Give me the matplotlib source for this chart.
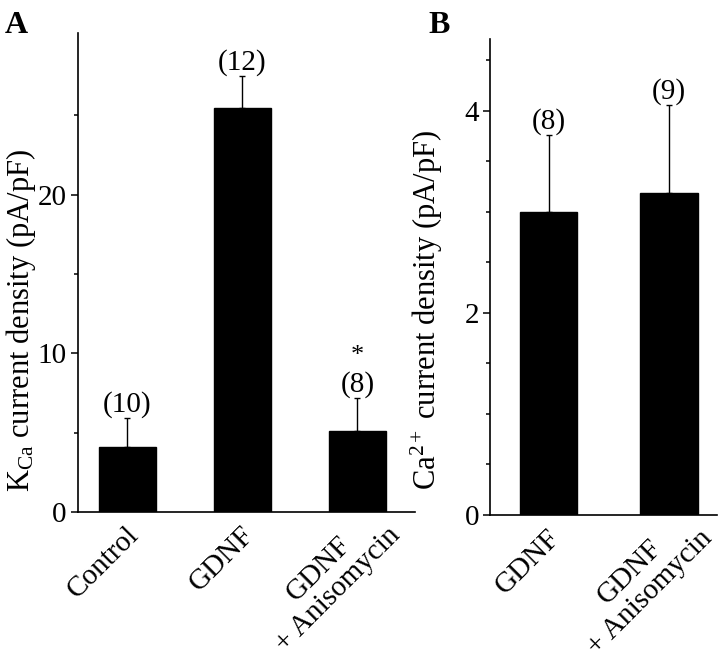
import matplotlib
matplotlib.use("Agg")
import matplotlib.pyplot as plt
import matplotlib.transforms as mtransforms
from matplotlib.ticker import FixedLocator

plt.rcParams["font.family"] = ["Liberation Serif", "DejaVu Serif"]
plt.rcParams["mathtext.fontset"] = "custom"
plt.rcParams["mathtext.rm"] = "Liberation Serif"
plt.rcParams["mathtext.it"] = "Liberation Serif:italic"

# panel A: KCa current density
kca_labels = ["Control", "GDNF", "GDNF\n+ Anisomycin"]
kca_mean = [4.1, 25.5, 5.1]
kca_sem = [1.8, 2.0, 2.1]
kca_n = ["(10)", "(12)", "(8)"]
kca_star = [False, False, True]
kca_major = [0, 10, 20]
kca_minor = [5, 15, 25]

# panel B: Ca2+ current density
ca_labels = ["GDNF", "GDNF\n+ Anisomycin"]
ca_mean = [3.0, 3.19]
ca_sem = [0.76, 0.87]
ca_n = ["(8)", "(9)"]
ca_major = [0, 2, 4]
ca_minor = [0.5, 1, 1.5, 2.5, 3, 3.5, 4.5]

FS = 21


def bar_panel(ax, labels, mean, sem, nlab, width, xlim, ylim, major, minor, stars=None):
    x = list(range(len(mean)))
    ax.bar(x, mean, width=width, color="black", edgecolor="black", zorder=2)
    ax.errorbar(x, mean, yerr=[[0] * len(sem), sem], fmt="none", ecolor="black",
                elinewidth=1.0, capsize=2.5, capthick=1.0, zorder=1)
    for i, (m, s, t) in enumerate(zip(mean, sem, nlab)):
        ax.annotate(t, (i, m + s), xytext=(0, 0), textcoords="offset points",
                    ha="center", va="bottom", fontsize=FS)
        if stars is not None and stars[i]:
            ax.annotate("*", (i, m + s), xytext=(0, 30), textcoords="offset points",
                        ha="center", va="center", fontsize=FS - 2)
    ax.set_xlim(*xlim)
    ax.set_ylim(*ylim)
    ax.set_xticks([])
    # rotated category labels, right end tucked under each bar
    base = mtransforms.blended_transform_factory(ax.transData, ax.transAxes)
    for i, lab in enumerate(labels):
        if "\n" in lab:
            dx, dy = 0.29, -0.09
        else:
            dx, dy = 0.07, -0.19
        tr = base + mtransforms.ScaledTranslation(dx, dy, ax.figure.dpi_scale_trans)
        ax.text(i, 0, lab, transform=tr, rotation=45, ha="right", va="center",
                rotation_mode="anchor", multialignment="center", fontsize=FS,
                linespacing=1.1)
    ax.yaxis.set_major_locator(FixedLocator(major))
    ax.yaxis.set_minor_locator(FixedLocator(minor))
    ax.tick_params(axis="y", which="major", direction="out", length=5, width=1.1,
                   labelsize=FS, pad=3)
    ax.tick_params(axis="y", which="minor", direction="out", length=3, width=1.1)
    for side in ("top", "right"):
        ax.spines[side].set_visible(False)
    for side in ("left", "bottom"):
        ax.spines[side].set_linewidth(1.2)


fig = plt.figure(figsize=(7.2, 6.59), dpi=100)

axA = fig.add_axes([0.1083, 0.223, 0.468, 0.727])
bar_panel(axA, kca_labels, kca_mean, kca_sem, kca_n, 0.5, (-0.43, 2.5), (0, 30.2),
          kca_major, kca_minor, stars=kca_star)
axA.set_ylabel(r"K$_{\rm Ca}$ current density (pA/pF)", fontsize=FS + 1)
axA.yaxis.set_label_coords(-0.12, 0.40)

axB = fig.add_axes([0.6806, 0.2185, 0.3153, 0.7223])
bar_panel(axB, ca_labels, ca_mean, ca_sem, ca_n, 0.475, (-0.49, 1.40), (0, 4.71),
          ca_major, ca_minor)
axB.set_ylabel(r"Ca$^{2+}$ current density (pA/pF)", fontsize=FS + 1)
axB.yaxis.set_label_coords(-0.198, 0.43)

fig.text(5 / 720, 1 - 33 / 659, "A", fontsize=23, fontweight="bold", va="baseline")
fig.text(428 / 720, 1 - 33 / 659, "B", fontsize=23, fontweight="bold", va="baseline")

fig.savefig("out.png", dpi=100)
